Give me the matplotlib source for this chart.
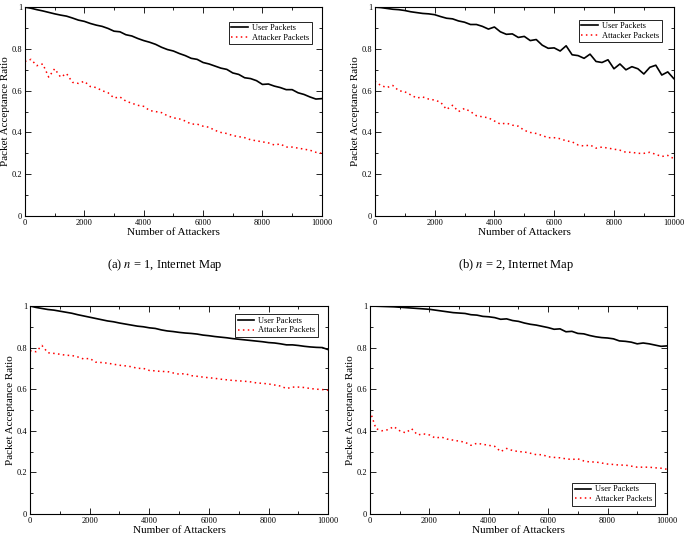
import numpy as np
import matplotlib
matplotlib.use("Agg")
import matplotlib.pyplot as plt
from matplotlib.ticker import MultipleLocator, FuncFormatter

plt.rcParams['font.family'] = ['Liberation Serif', 'DejaVu Serif']
plt.rcParams['mathtext.fontset'] = 'stix'

# x positions: number of attackers (0 .. 10000, step 200)
attackers = np.arange(0, 10001, 200)

# (a) n = 1, Internet Map
user_a = [1.000, 0.995, 0.988, 0.982, 0.975, 0.968, 0.962, 0.957, 0.948, 0.938,
          0.932, 0.922, 0.914, 0.908, 0.898, 0.885, 0.882, 0.868, 0.862, 0.850,
          0.840, 0.832, 0.822, 0.808, 0.797, 0.790, 0.778, 0.768, 0.755, 0.750,
          0.735, 0.728, 0.718, 0.708, 0.702, 0.685, 0.678, 0.662, 0.658, 0.648,
          0.630, 0.632, 0.622, 0.615, 0.605, 0.605, 0.590, 0.582, 0.570, 0.560,
          0.562]
attk_a = [0.740, 0.750, 0.720, 0.728, 0.665, 0.705, 0.665, 0.682, 0.640, 0.635,
          0.645, 0.620, 0.615, 0.600, 0.590, 0.565, 0.570, 0.550, 0.540, 0.530,
          0.525, 0.505, 0.500, 0.495, 0.480, 0.470, 0.465, 0.455, 0.440, 0.440,
          0.430, 0.425, 0.410, 0.400, 0.395, 0.385, 0.380, 0.375, 0.365, 0.360,
          0.355, 0.350, 0.340, 0.345, 0.330, 0.330, 0.325, 0.320, 0.315, 0.305,
          0.300]

# (b) n = 2, Internet Map
user_b = [1.000, 0.998, 0.994, 0.990, 0.988, 0.984, 0.978, 0.974, 0.970, 0.968,
          0.964, 0.955, 0.947, 0.944, 0.934, 0.928, 0.917, 0.917, 0.908, 0.895,
          0.905, 0.882, 0.870, 0.872, 0.855, 0.860, 0.840, 0.845, 0.818, 0.803,
          0.805, 0.790, 0.815, 0.772, 0.768, 0.755, 0.775, 0.740, 0.735, 0.748,
          0.705, 0.728, 0.700, 0.715, 0.705, 0.680, 0.712, 0.722, 0.675, 0.690,
          0.658]
attk_b = [0.645, 0.625, 0.615, 0.625, 0.600, 0.595, 0.580, 0.565, 0.570, 0.560,
          0.555, 0.545, 0.510, 0.530, 0.500, 0.515, 0.500, 0.480, 0.475, 0.470,
          0.455, 0.440, 0.445, 0.435, 0.430, 0.410, 0.400, 0.395, 0.385, 0.375,
          0.375, 0.370, 0.360, 0.355, 0.340, 0.335, 0.340, 0.325, 0.330, 0.325,
          0.320, 0.315, 0.305, 0.305, 0.300, 0.300, 0.305, 0.295, 0.285, 0.290,
          0.275]

# bottom left
user_c = [1.000, 0.993, 0.988, 0.983, 0.980, 0.975, 0.970, 0.965, 0.958, 0.952,
          0.946, 0.940, 0.934, 0.928, 0.924, 0.918, 0.913, 0.908, 0.903, 0.900,
          0.895, 0.892, 0.885, 0.880, 0.877, 0.873, 0.870, 0.868, 0.865, 0.860,
          0.857, 0.853, 0.850, 0.847, 0.843, 0.840, 0.837, 0.834, 0.831, 0.828,
          0.824, 0.822, 0.818, 0.813, 0.813, 0.810, 0.806, 0.803, 0.801, 0.800,
          0.790]
attk_c = [0.785, 0.780, 0.810, 0.775, 0.772, 0.768, 0.763, 0.762, 0.755, 0.745,
          0.748, 0.730, 0.728, 0.725, 0.720, 0.715, 0.712, 0.708, 0.700, 0.700,
          0.690, 0.688, 0.685, 0.685, 0.678, 0.672, 0.675, 0.665, 0.662, 0.658,
          0.655, 0.652, 0.648, 0.645, 0.642, 0.640, 0.638, 0.635, 0.630, 0.628,
          0.625, 0.620, 0.615, 0.603, 0.610, 0.610, 0.608, 0.603, 0.600, 0.598,
          0.595]

# bottom right
user_d = [1.000, 0.999, 0.998, 0.997, 0.996, 0.994, 0.992, 0.990, 0.988, 0.986,
          0.984, 0.980, 0.976, 0.972, 0.968, 0.966, 0.964, 0.958, 0.956, 0.950,
          0.948, 0.944, 0.936, 0.938, 0.930, 0.926, 0.918, 0.912, 0.908, 0.902,
          0.896, 0.888, 0.890, 0.876, 0.878, 0.868, 0.866, 0.858, 0.852, 0.848,
          0.846, 0.842, 0.832, 0.830, 0.826, 0.818, 0.822, 0.818, 0.812, 0.806,
          0.808]
attk_d = [0.495, 0.410, 0.400, 0.405, 0.420, 0.400, 0.390, 0.410, 0.380, 0.385,
          0.380, 0.365, 0.370, 0.360, 0.355, 0.350, 0.345, 0.330, 0.340, 0.335,
          0.330, 0.325, 0.300, 0.315, 0.305, 0.300, 0.298, 0.292, 0.285, 0.285,
          0.275, 0.272, 0.270, 0.265, 0.262, 0.265, 0.255, 0.250, 0.250, 0.245,
          0.240, 0.238, 0.235, 0.235, 0.230, 0.225, 0.225, 0.225, 0.222, 0.220,
          0.215]

panels = [
    ([0.0365, 0.608, 0.434, 0.379], user_a, attk_a, 'upper right', (0.966, 0.93)),
    ([0.548, 0.608, 0.437, 0.379], user_b, attk_b, 'upper right', (0.96, 0.94)),
    ([0.0439, 0.0672, 0.436, 0.3775], user_c, attk_c, 'upper right', (0.966, 0.96)),
    ([0.541, 0.0672, 0.434, 0.3775], user_d, attk_d, 'lower right', (0.96, 0.04)),
]

fig = plt.figure(figsize=(6.84, 5.51), dpi=100)

for rect, user, attk, loc, anchor in panels:
    ax = fig.add_axes(rect)
    ax.plot(attackers, user, color='black', lw=1.2, label='User Packets')
    ax.plot(attackers, attk, color='red', lw=1.1, ls=(0, (1, 2.2)),
            label='Attacker Packets')
    ax.set_xlim(0, 10000)
    ax.set_ylim(0, 1)
    ax.xaxis.set_major_locator(MultipleLocator(2000))
    ax.xaxis.set_minor_locator(MultipleLocator(1000))
    ax.yaxis.set_major_locator(MultipleLocator(0.2))
    ax.yaxis.set_minor_locator(MultipleLocator(0.1))
    ax.yaxis.set_major_formatter(FuncFormatter(lambda v, p: '%g' % round(v, 2)))
    ax.tick_params(which='both', direction='in', top=True, right=True,
                   labelsize=6, pad=2, width=0.6)
    ax.tick_params(which='major', length=4)
    ax.tick_params(which='minor', length=2)
    for s in ax.spines.values():
        s.set_linewidth(0.8)
    ax.set_xlabel('Number of Attackers', fontsize=8, labelpad=1)
    ax.set_ylabel('Packet Acceptance Ratio', fontsize=8, labelpad=1)
    leg = ax.legend(loc=loc, fontsize=6, fancybox=False, edgecolor='black',
                    framealpha=1, handlelength=2.0, borderpad=0.3,
                    labelspacing=0.2, handletextpad=0.5, borderaxespad=0,
                    bbox_to_anchor=anchor)
    leg.get_frame().set_linewidth(0.6)

fig.text(0.241, 0.519, '(a) $n$ = 1, Internet Map', ha='center', va='center', fontsize=9)
fig.text(0.755, 0.519, '(b) $n$ = 2, Internet Map', ha='center', va='center', fontsize=9)

fig.savefig('out.png', dpi=100)
